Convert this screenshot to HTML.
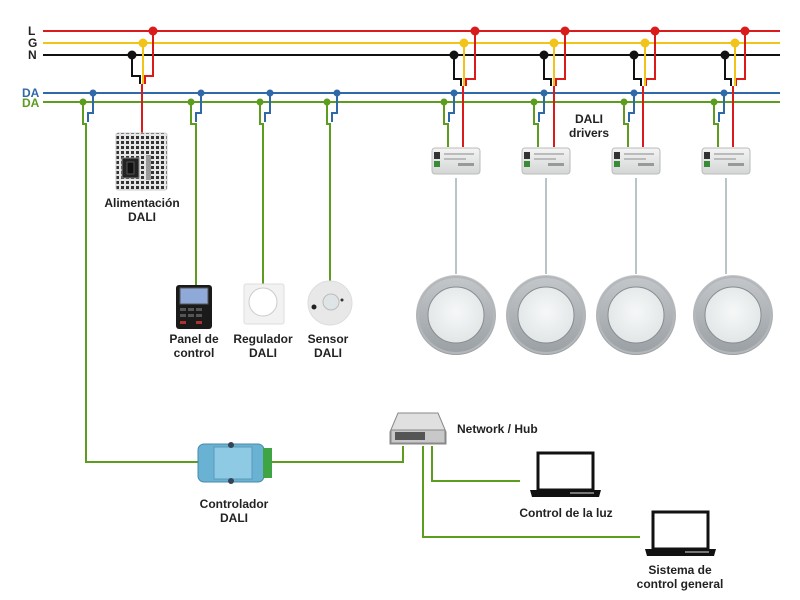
<!DOCTYPE html>
<html><head><meta charset="utf-8"><style>
html,body{margin:0;padding:0;background:#fff}
svg{display:block}
text{font-family:"Liberation Sans",sans-serif;font-weight:bold;font-size:12px;fill:#222}
</style></head><body>
<svg width="800" height="600" viewBox="0 0 800 600" xmlns="http://www.w3.org/2000/svg">
<defs>
<radialGradient id="lampIn" cx="50%" cy="45%" r="55%"><stop offset="0" stop-color="#f6f8f8"/><stop offset="1" stop-color="#e2e6e7"/></radialGradient>
<linearGradient id="lampOut" x1="0" y1="0" x2="0" y2="1"><stop offset="0" stop-color="#c4c8cb"/><stop offset="1" stop-color="#9a9fa3"/></linearGradient>
<linearGradient id="drv" x1="0" y1="0" x2="0" y2="1"><stop offset="0" stop-color="#f4f4f4"/><stop offset="1" stop-color="#d4d6d6"/></linearGradient>
<g id="driver">
<rect x="0" y="0" width="48" height="26" rx="3" fill="url(#drv)" stroke="#bbb"/>
<rect x="2" y="4" width="6" height="7" fill="#333"/><rect x="2" y="13" width="6" height="6" fill="#3a8a3a"/>
<rect x="12" y="5" width="30" height="2" fill="#bbb"/><rect x="12" y="10" width="22" height="2" fill="#bbb"/><rect x="26" y="15" width="16" height="3" fill="#999"/>
</g>
<g id="lamp"><circle r="40" fill="url(#lampOut)"/><circle r="38" fill="none" stroke="#b3b7ba" stroke-width="2"/><circle r="28" fill="url(#lampIn)" stroke="#868c90" stroke-width="1"/></g>
<g id="laptop">
<rect x="8" y="0" width="55" height="37" fill="#fff" stroke="#111" stroke-width="3"/>
<path d="M0 37 H71 L69 44 H2 Z" fill="#111"/>
<rect x="40" y="39" width="24" height="2" fill="#777"/>
</g>
</defs>

<text x="28" y="35">L</text>
<text x="28" y="47">G</text>
<text x="28" y="59">N</text>
<text x="22" y="97" style="fill:#2f69a8">DA</text>
<text x="22" y="107" style="fill:#5c9c1e">DA</text>
<line x1="43" y1="31" x2="780" y2="31" stroke="#d91b1b" stroke-width="2"/>
<line x1="43" y1="43" x2="780" y2="43" stroke="#f2c318" stroke-width="2"/>
<line x1="43" y1="55" x2="780" y2="55" stroke="#111" stroke-width="2"/>
<line x1="43" y1="93" x2="780" y2="93" stroke="#2f69a8" stroke-width="2"/>
<line x1="43" y1="102" x2="780" y2="102" stroke="#5c9c1e" stroke-width="2"/>

<g fill="none" stroke-width="2">
<path d="M132 55V76H140V84" stroke="#111"/><path d="M153 31V76H145V84" stroke="#d91b1b"/><path d="M143 43V84" stroke="#f2c318"/><path d="M142 84V133" stroke="#d91b1b"/>
<path d="M454 55V79H461V86" stroke="#111"/><path d="M475 31V79H466V86" stroke="#d91b1b"/><path d="M464 43V86" stroke="#f2c318"/><path d="M463 86V147" stroke="#d91b1b"/>
<path d="M544 55V79H551V86" stroke="#111"/><path d="M565 31V79H556V86" stroke="#d91b1b"/><path d="M554 43V86" stroke="#f2c318"/><path d="M554 86V147" stroke="#d91b1b"/>
<path d="M634 55V79H641V86" stroke="#111"/><path d="M655 31V79H646V86" stroke="#d91b1b"/><path d="M645 43V86" stroke="#f2c318"/><path d="M643 86V147" stroke="#d91b1b"/>
<path d="M725 55V79H731V86" stroke="#111"/><path d="M745 31V79H736V86" stroke="#d91b1b"/><path d="M735 43V86" stroke="#f2c318"/><path d="M733 86V147" stroke="#d91b1b"/>
<path d="M93 93V113H88V122" stroke="#2f69a8"/><path d="M83 102V124H86V462H200" stroke="#5c9c1e"/>
<path d="M201 93V113H196V122" stroke="#2f69a8"/><path d="M191 102V124H196V285" stroke="#5c9c1e"/>
<path d="M270 93V113H265V122" stroke="#2f69a8"/><path d="M260 102V124H263V285" stroke="#5c9c1e"/>
<path d="M337 93V113H332V122" stroke="#2f69a8"/><path d="M327 102V124H330V285" stroke="#5c9c1e"/>
<path d="M454 93V113H449V122" stroke="#2f69a8"/><path d="M444 102V124H448V147" stroke="#5c9c1e"/>
<path d="M544 93V113H539V122" stroke="#2f69a8"/><path d="M534 102V124H538V147" stroke="#5c9c1e"/>
<path d="M634 93V113H629V122" stroke="#2f69a8"/><path d="M624 102V124H628V147" stroke="#5c9c1e"/>
<path d="M724 93V113H719V122" stroke="#2f69a8"/><path d="M714 102V124H718V147" stroke="#5c9c1e"/>
<path d="M272 462H403V446" stroke="#5c9c1e"/>
<path d="M432 446V481H520" stroke="#5c9c1e"/>
<path d="M423 446V537H640" stroke="#5c9c1e"/>
<g stroke="#9fb0b6" stroke-width="1.5"><path d="M456 178V274"/><path d="M546 178V274"/><path d="M636 178V274"/><path d="M726 178V274"/></g>
</g>

<g>
<g fill="#d91b1b"><circle cx="153" cy="31" r="4.5"/><circle cx="475" cy="31" r="4.5"/><circle cx="565" cy="31" r="4.5"/><circle cx="655" cy="31" r="4.5"/><circle cx="745" cy="31" r="4.5"/></g>
<g fill="#f2c318"><circle cx="143" cy="43" r="4.5"/><circle cx="464" cy="43" r="4.5"/><circle cx="554" cy="43" r="4.5"/><circle cx="645" cy="43" r="4.5"/><circle cx="735" cy="43" r="4.5"/></g>
<g fill="#111"><circle cx="132" cy="55" r="4.5"/><circle cx="454" cy="55" r="4.5"/><circle cx="544" cy="55" r="4.5"/><circle cx="634" cy="55" r="4.5"/><circle cx="725" cy="55" r="4.5"/></g>
<g fill="#2f69a8"><circle cx="93" cy="93" r="3.5"/><circle cx="201" cy="93" r="3.5"/><circle cx="270" cy="93" r="3.5"/><circle cx="337" cy="93" r="3.5"/><circle cx="454" cy="93" r="3.5"/><circle cx="544" cy="93" r="3.5"/><circle cx="634" cy="93" r="3.5"/><circle cx="724" cy="93" r="3.5"/></g>
<g fill="#5c9c1e"><circle cx="83" cy="102" r="3.5"/><circle cx="191" cy="102" r="3.5"/><circle cx="260" cy="102" r="3.5"/><circle cx="327" cy="102" r="3.5"/><circle cx="444" cy="102" r="3.5"/><circle cx="534" cy="102" r="3.5"/><circle cx="624" cy="102" r="3.5"/><circle cx="714" cy="102" r="3.5"/></g>
</g>

<defs><pattern id="holes" width="5" height="5" patternUnits="userSpaceOnUse"><rect width="5" height="5" fill="#e6e6e6"/><rect x="1" y="1" width="3" height="3" fill="#333"/></pattern></defs>
<rect x="116" y="133" width="51" height="57" rx="2" fill="url(#holes)" stroke="#ccc"/>
<rect x="122" y="158" width="17" height="20" fill="#222" stroke="#888"/>
<rect x="127" y="162" width="7" height="12" fill="#111" stroke="#555"/>
<rect x="146" y="155" width="5" height="25" fill="#999"/>
<text x="142" y="207" text-anchor="middle">Alimentación</text>
<text x="142" y="221" text-anchor="middle">DALI</text>

<use href="#driver" x="432" y="148"/><use href="#driver" x="522" y="148"/><use href="#driver" x="612" y="148"/><use href="#driver" x="702" y="148"/>
<text x="589" y="123" text-anchor="middle">DALI</text>
<text x="589" y="137" text-anchor="middle">drivers</text>

<use href="#lamp" x="456" y="315"/><use href="#lamp" x="546" y="315"/><use href="#lamp" x="636" y="315"/><use href="#lamp" x="733" y="315"/>

<rect x="176" y="285" width="36" height="44" rx="3" fill="#1a1a1a"/>
<rect x="180" y="288" width="28" height="16" fill="#8fa9d8" stroke="#555"/>
<g fill="#555"><rect x="180" y="308" width="6" height="3"/><rect x="188" y="308" width="6" height="3"/><rect x="196" y="308" width="6" height="3"/><rect x="180" y="314" width="6" height="3"/><rect x="188" y="314" width="6" height="3"/><rect x="196" y="314" width="6" height="3"/></g>
<g fill="#a33"><rect x="180" y="321" width="6" height="3"/><rect x="196" y="321" width="6" height="3"/></g>
<text x="194" y="343" text-anchor="middle">Panel de</text>
<text x="194" y="357" text-anchor="middle">control</text>

<rect x="244" y="284" width="40" height="40" rx="2" fill="#f2f2f2" stroke="#ddd"/>
<circle cx="263" cy="302" r="14" fill="#fff" stroke="#ccc"/>
<text x="263" y="343" text-anchor="middle">Regulador</text>
<text x="263" y="357" text-anchor="middle">DALI</text>

<circle cx="330" cy="303" r="22" fill="#e8e8e8" stroke="#ddd"/>
<circle cx="331" cy="302" r="8" fill="#dfe4e6" stroke="#bbb"/>
<circle cx="314" cy="307" r="2.5" fill="#222"/><circle cx="342" cy="300" r="1.5" fill="#333"/>
<text x="328" y="343" text-anchor="middle">Sensor</text>
<text x="328" y="357" text-anchor="middle">DALI</text>

<rect x="198" y="444" width="66" height="38" rx="6" fill="#69b2d4" stroke="#4a8aa8"/>
<rect x="214" y="447" width="38" height="32" fill="#8ecae4" stroke="#5a9ab8"/>
<circle cx="231" cy="445" r="3" fill="#345"/><circle cx="231" cy="481" r="3" fill="#345"/>
<rect x="263" y="448" width="9" height="30" fill="#3fa544"/>
<text x="234" y="508" text-anchor="middle">Controlador</text>
<text x="234" y="522" text-anchor="middle">DALI</text>

<path d="M398 413H438L446 432V444H390V432Z" fill="#e0e0e0" stroke="#888"/>
<rect x="391" y="430" width="54" height="13" fill="#c8c8c8" stroke="#888"/>
<rect x="395" y="432" width="30" height="8" fill="#555"/>
<text x="457" y="433">Network / Hub</text>

<use href="#laptop" x="530" y="453"/>
<text x="566" y="517" text-anchor="middle">Control de la luz</text>
<use href="#laptop" x="645" y="512"/>
<text x="680" y="574" text-anchor="middle">Sistema de</text>
<text x="680" y="588" text-anchor="middle">control general</text>
</svg>
</body></html>
